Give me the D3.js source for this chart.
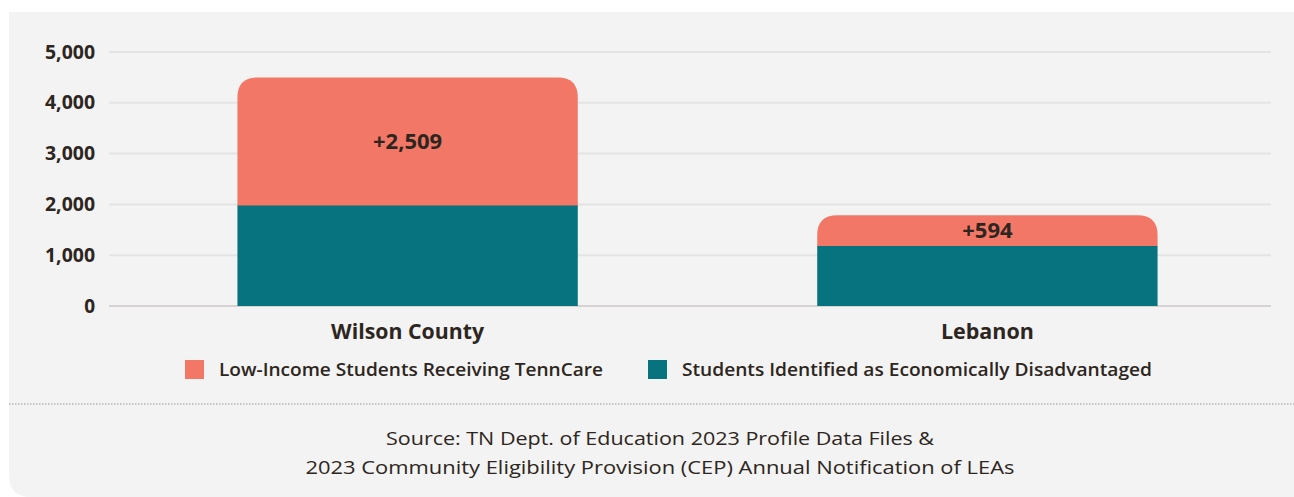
<!DOCTYPE html>
<html>
<head>
<meta charset="utf-8">
<script src="https://cdn.jsdelivr.net/npm/d3@7"></script>
<style>
  body { margin: 0; background: #fff; }
  text { font-family: "Open Sans", "Noto Sans", sans-serif; fill: #2d2620; }
</style>
</head>
<body>
<div id="chart"></div>
<script>
// data
const categories = ["Wilson County", "Lebanon"];
const disadvantaged = [1990, 1190];
const tenncare = [2509, 594];
const yTicks = [0, 1000, 2000, 3000, 4000, 5000];
const seriesNames = ["Low-Income Students Receiving TennCare", "Students Identified as Economically Disadvantaged"];
const seriesColors = ["#f37766", "#06737f"];
const sourceLines = ["Source: TN Dept. of Education 2023 Profile Data Files &",
                     "2023 Community Eligibility Provision (CEP) Annual Notification of LEAs"];

const W = 1294, H = 497;
const svg = d3.select("#chart").append("svg")
    .attr("width", W)
    .attr("height", H);

// panel background, only bottom-left corner rounded
let r0 = 22;
svg.append("path")
    .attr("d", `M9,12 H${W} V${H} H${9 + r0} Q9,${H} 9,${H - r0} Z`)
    .attr("fill", "#f2f3f2");

// scales
let x = d3.scaleBand().domain(categories).range([118, 1277]).paddingInner(0.413).paddingOuter(0.206);
let y = d3.scaleLinear().domain([0, 5000]).range([306, 52]);

// gridlines
svg.append("g")
    .selectAll("line")
    .data(yTicks)
    .join("line")
    .attr("x1", 109).attr("x2", 1271)
    .attr("y1", d => y(d)).attr("y2", d => y(d))
    .attr("stroke", d => d === 0 ? "#d7d3d3" : "#e3e4e3")
    .attr("stroke-width", 2);

// y axis labels
let yAxis = svg.append("g")
    .attr("transform", "translate(101,0)")
    .call(d3.axisLeft(y).tickValues(yTicks).tickFormat(d3.format(",")).tickSize(0).tickPadding(6));
yAxis.select(".domain").remove();
yAxis.selectAll("text")
    .attr("textLength", d => d === 0 ? null : 50)
    .attr("lengthAdjust", "spacingAndGlyphs")
    .style("font-size", "19px")
    .style("font-weight", "700")
    .style("font-family", "'Open Sans', sans-serif")
    .attr("fill", "#2d2620");

// stacked bars
let rows = categories.map((c, i) => ({cat: c, base: disadvantaged[i], add: tenncare[i]}));
let bw = x.bandwidth();
let rad = 20;

svg.append("g").selectAll("rect")
    .data(rows)
    .join("rect")
    .attr("x", d => x(d.cat))
    .attr("width", bw)
    .attr("y", d => y(d.base))
    .attr("height", d => y(0) - y(d.base))
    .attr("fill", seriesColors[1]);

svg.append("g").selectAll("path")
    .data(rows)
    .join("path")
    .attr("d", d => {
        let x0 = x(d.cat), x1 = x0 + bw;
        let yt = y(d.base + d.add), yb = y(d.base) + 0.5;
        let rr = Math.min(rad, yb - yt);
        return `M${x0},${yb} V${yt + rr} Q${x0},${yt} ${x0 + rr},${yt} H${x1 - rr} Q${x1},${yt} ${x1},${yt + rr} V${yb} Z`;
    })
    .attr("fill", seriesColors[0]);

// value labels in the pink segment
svg.append("g").selectAll("text")
    .data(rows)
    .join("text")
    .attr("x", d => x(d.cat) + bw / 2)
    .attr("y", d => (y(d.base) + y(d.base + d.add)) / 2)
    .attr("dy", "0.35em")
    .attr("text-anchor", "middle")
    .style("font-size", "22px")
    .style("font-weight", "700")
    .text(d => "+" + d3.format(",")(d.add));

// category labels
let catW = [153, 93];
svg.append("g").selectAll("text")
    .data(categories)
    .join("text")
    .attr("x", d => x(d) + bw / 2)
    .attr("y", 339)
    .attr("text-anchor", "middle")
    .attr("textLength", (d, i) => catW[i])
    .attr("lengthAdjust", "spacingAndGlyphs")
    .style("font-size", "21px")
    .style("font-weight", "700")
    .text(d => d);

// legend
let legendX = [185, 648];
let legendW = [384, 470];
let legend = svg.append("g").selectAll("g")
    .data(seriesNames)
    .join("g")
    .attr("transform", (d, i) => `translate(${legendX[i]}, 360)`);
legend.append("rect")
    .attr("width", 19).attr("height", 19)
    .attr("fill", (d, i) => seriesColors[i]);
legend.append("text")
    .attr("x", 34)
    .attr("y", 16)
    .attr("textLength", (d, i) => legendW[i])
    .attr("lengthAdjust", "spacingAndGlyphs")
    .style("font-size", "18px")
    .style("font-weight", "600")
    .text(d => d);

// dotted separator
svg.append("line")
    .attr("x1", 9).attr("x2", W)
    .attr("y1", 404).attr("y2", 404)
    .attr("stroke", "#9a9a9a")
    .attr("stroke-width", 1)
    .attr("stroke-dasharray", "1.5,1.5");

// source
let srcW = [548, 709];
svg.append("g").selectAll("text")
    .data(sourceLines)
    .join("text")
    .attr("x", 660)
    .attr("y", (d, i) => 445 + i * 29)
    .attr("text-anchor", "middle")
    .attr("textLength", (d, i) => srcW[i])
    .attr("lengthAdjust", "spacingAndGlyphs")
    .style("font-size", "18px")
    .text(d => d);
</script>
</body>
</html>
